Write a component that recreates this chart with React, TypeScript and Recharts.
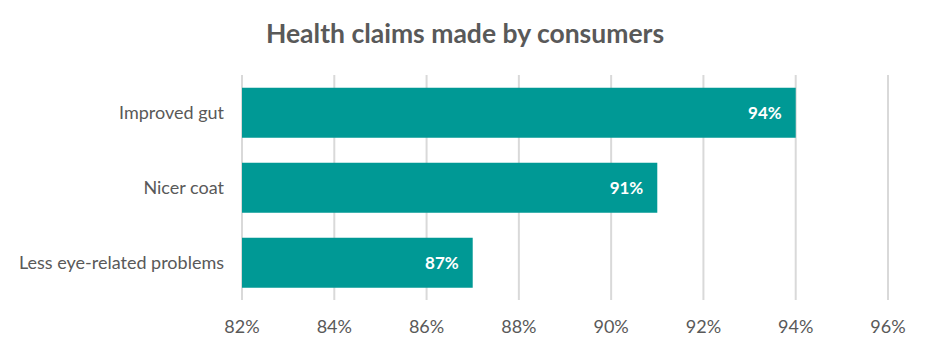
import React from 'react';
import { BarChart, Bar, XAxis, YAxis, CartesianGrid, LabelList } from 'recharts';

const categories = ['Improved gut', 'Nicer coat', 'Less eye-related problems'];
const values = [94, 91, 87];
const xTicks = [82, 84, 86, 88, 90, 92, 94, 96];

const data = categories.map((name, i) => ({ name, value: values[i] }));

const FONT = 'Lato, "Open Sans", sans-serif';

export default function App() {
  return (
    <div style={{ position: 'absolute', left: 0, top: 0, width: 926, height: 354, background: '#fff' }}>
      <div
        style={{
          position: 'absolute',
          left: 0,
          top: 15,
          width: 930,
          textAlign: 'center',
          fontFamily: FONT,
          fontWeight: 700,
          fontSize: 26.5,
          color: '#595959',
          lineHeight: '36px',
        }}
      >
        Health claims made by consumers
      </div>
      <BarChart
        width={926}
        height={354}
        data={data}
        layout="vertical"
        margin={{ top: 75, right: 38, bottom: 0, left: 0 }}
        barCategoryGap="17%"
      >
        <CartesianGrid horizontal={false} vertical stroke="#d9d9d9" strokeWidth={2} />
        <XAxis
          type="number"
          domain={[82, 96]}
          ticks={xTicks}
          tickFormatter={(v: number) => `${v}%`}
          axisLine={false}
          tickLine={false}
          tickSize={0}
          tickMargin={20}
          height={54}
          interval={0}
          tick={{ fill: '#595959', fontSize: 18, fontFamily: FONT }}
        />
        <YAxis
          type="category"
          dataKey="name"
          width={242}
          axisLine={false}
          tickLine={false}
          tickSize={0}
          tickMargin={18}
          tick={{ fill: '#595959', fontSize: 18, fontFamily: FONT }}
        />
        <Bar dataKey="value" fill="#009995" isAnimationActive={false}>
          <LabelList
            dataKey="value"
            position="insideRight"
            offset={14}
            formatter={(v: number) => `${v}%`}
            style={{ fill: '#ffffff', fontWeight: 700, fontSize: 17, fontFamily: FONT }}
          />
        </Bar>
      </BarChart>
    </div>
  );
}
